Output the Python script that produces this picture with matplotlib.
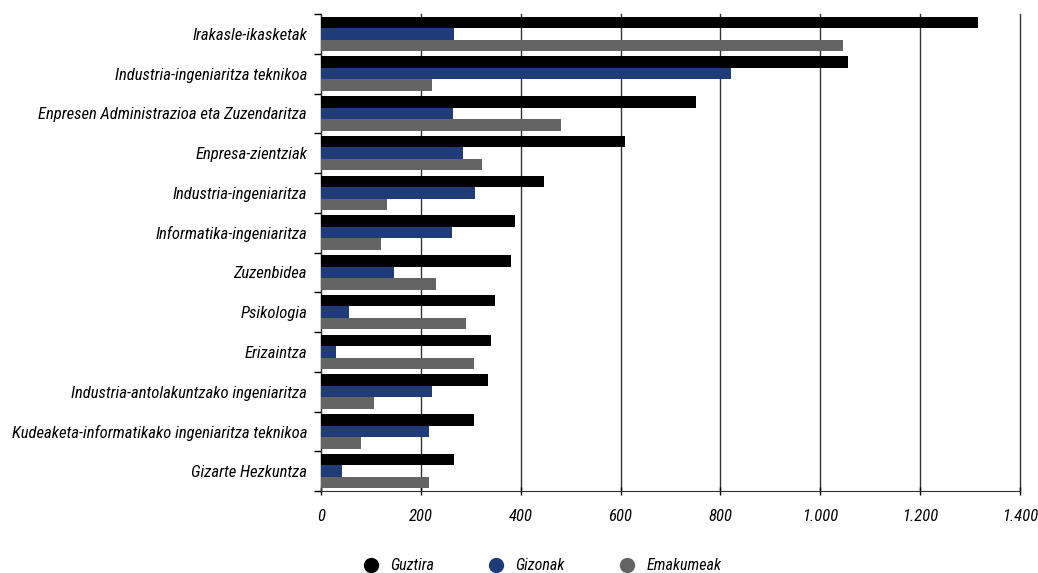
import numpy as np
import matplotlib
matplotlib.use('Agg')
import matplotlib.pyplot as plt
from matplotlib import font_manager
from matplotlib.ticker import FuncFormatter, FixedLocator
from matplotlib.lines import Line2D

# Pick a narrow font if one is available
names = {f.name for f in font_manager.fontManager.ttflist}
family = 'DejaVu Sans'
for cand in ['Liberation Sans Narrow', 'DejaVu Sans Condensed', 'Roboto Condensed', 'Open Sans Condensed']:
    if cand in names:
        family = cand
        break
plt.rcParams['font.family'] = [family, 'DejaVu Sans']

# Data
categories = ['Irakasle-ikasketak', 'Industria-ingeniaritza teknikoa',
              'Enpresen Administrazioa eta Zuzendaritza', 'Enpresa-zientziak',
              'Industria-ingeniaritza', 'Informatika-ingeniaritza', 'Zuzenbidea',
              'Psikologia', 'Erizaintza', 'Industria-antolakuntzako ingeniaritza',
              'Kudeaketa-informatikako ingeniaritza teknikoa', 'Gizarte Hezkuntza']
guztira = [1315, 1056, 751, 609, 446, 388, 380, 348, 340, 334, 306, 266]
gizonak = [266, 821, 264, 284, 308, 263, 147, 57, 31, 223, 217, 43]
emakumeak = [1046, 223, 481, 322, 133, 121, 231, 290, 306, 107, 81, 217]
series_names = ['Guztira', 'Gizonak', 'Emakumeak']
colors = ['#000000', '#1f3c78', '#646464']

fig = plt.figure(figsize=(10.38, 5.73), dpi=100)
ax = fig.add_axes([321 / 1038, 1 - 491 / 573, (1020 - 321) / 1038, (491 - 14) / 573])

y = np.arange(len(categories))
h = 0.29
for k, (vals, c, name) in enumerate(zip([guztira, gizonak, emakumeak], colors, series_names)):
    ax.barh(y + (k - 1) * h, vals, height=h, color=c, label=name, zorder=3)

ax.set_ylim(len(categories) - 0.5, -0.5)
ax.set_xlim(0, 1400)
ax.set_xticks(np.arange(0, 1401, 200))
ax.xaxis.set_major_formatter(FuncFormatter(lambda v, p: f'{int(v):,}'.replace(',', '.')))
ax.grid(axis='x', color='#333333', linewidth=1.0, zorder=0)
for gl in ax.get_xgridlines():
    gl.set_clip_on(False)

ax.set_yticks(y)
ax.set_yticklabels(categories, fontsize=12, style='italic')
ax.yaxis.set_minor_locator(FixedLocator(np.arange(-0.5, len(categories), 1)))
ax.tick_params(axis='y', which='major', length=0, pad=10)
ax.tick_params(axis='y', which='minor', length=5, width=1, direction='out')
ax.tick_params(axis='x', length=6, width=1, direction='inout', labelsize=12, pad=10)
for t in ax.get_xticklabels():
    t.set_style('italic')

for s in ['top', 'right']:
    ax.spines[s].set_visible(False)
ax.spines['left'].set_color('#333333')
ax.spines['bottom'].set_color('#333333')

handles = [Line2D([], [], marker='o', linestyle='', markersize=10, color=c) for c in colors]
leg = fig.legend(handles, series_names, loc='center', bbox_to_anchor=(538 / 1038, 1 - 566 / 573),
                 ncol=3, frameon=False, handletextpad=0.2, columnspacing=2.9,
                 prop={'style': 'italic', 'size': 11.5})

fig.savefig('out.png', dpi=100)
